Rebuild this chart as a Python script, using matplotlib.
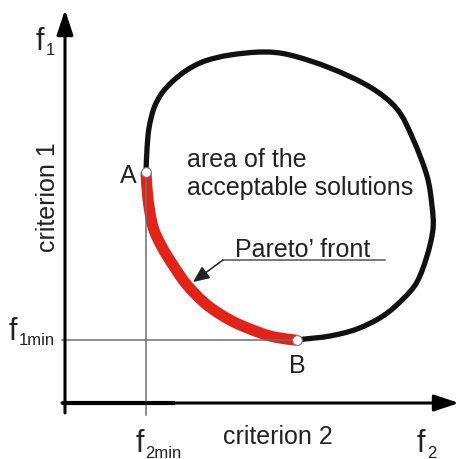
import numpy as np
import matplotlib.pyplot as plt
from matplotlib.path import Path
from matplotlib.patches import PathPatch

plt.rcParams['font.family'] = ['Liberation Sans', 'DejaVu Sans']

# boundary of the acceptable area, from A over the top down to B
bound_f2 = [81, 82, 84, 89, 97, 108, 122, 140, 165, 198, 225, 265, 305, 332, 348,
            362, 367, 368, 362, 352, 338, 318, 292, 265, 240, 232]
bound_f1 = [231, 254, 275, 295, 310, 322, 333, 342, 348, 351, 348, 335, 316, 294, 264,
            227, 197, 174, 147, 121, 104, 87, 74, 67, 64, 63]

# Pareto front, A -> B
front_f2 = [81, 83, 88, 97, 108, 122, 142, 165, 185, 205, 225, 232]
front_f1 = [231, 204, 176, 156, 138, 118, 98, 83, 74, 67, 63.5, 63]

f2_min = 81
f1_min = 63
point_A = (81, 231)
point_B = (232, 63)


def smooth_path(xs, ys):
    # Catmull-Rom through the given points, drawn as cubic Bezier segments
    p = np.column_stack([xs, ys]).astype(float)
    p = np.vstack([p[0], p, p[-1]])
    verts = [p[1]]
    codes = [Path.MOVETO]
    for i in range(1, len(p) - 2):
        c1 = p[i] + (p[i + 1] - p[i - 1]) / 6
        c2 = p[i + 1] - (p[i + 2] - p[i]) / 6
        verts += [c1, c2, p[i + 1]]
        codes += [Path.CURVE4] * 3
    return Path(verts, codes)


fig = plt.figure(figsize=(4.59, 4.60), dpi=100)
ax = fig.add_axes([0, 0, 1, 1])
ax.set_xlim(-65, 394)
ax.set_ylim(-56, 404)
ax.axis('off')

# axes with arrows
ax.annotate('', xy=(0, 393), xytext=(0, -10),
            arrowprops=dict(arrowstyle='-|>,head_length=0.6,head_width=0.2',
                            lw=2.2, color='black', mutation_scale=25,
                            shrinkA=0, shrinkB=0))
ax.annotate('', xy=(394, 0), xytext=(-3, 0),
            arrowprops=dict(arrowstyle='-|>,head_length=0.6,head_width=0.2',
                            lw=2.2, color='black', mutation_scale=25,
                            shrinkA=0, shrinkB=0))
ax.plot([-3, 110], [0, 0], color='black', lw=3.0, solid_capstyle='butt')

# guide lines
ax.plot([f2_min, f2_min], [-12, point_A[1]], color='#6e6e6e', lw=1.1)
ax.plot([-3, point_B[0]], [f1_min, f1_min], color='#6e6e6e', lw=1.1)

# boundary and front
ax.add_patch(PathPatch(smooth_path(bound_f2, bound_f1), fill=False,
                       edgecolor='#111111', lw=3.8, capstyle='round',
                       joinstyle='round'))
ax.add_patch(PathPatch(smooth_path(front_f2, front_f1), fill=False,
                       edgecolor='#e2231a', lw=8.0, capstyle='butt',
                       joinstyle='round'))
ax.plot([point_A[0], point_B[0]], [point_A[1], point_B[1]], 'o', ls='none',
        ms=7, mfc='white', mec='#777777', mew=0.8)

# texts
fs = 18
ax.text(122, 237, 'area of the', fontsize=fs, color='#222222')
ax.text(122, 209, 'acceptable solutions', fontsize=fs, color='#222222')
ax.text(170, 147, 'Pareto\u2019 front', fontsize=fs, color='#222222')
ax.plot([158, 320], [143, 143], color='#555555', lw=1.1)
ax.annotate('', xy=(128, 121), xytext=(158, 143),
            arrowprops=dict(arrowstyle='-|>,head_length=0.5,head_width=0.22',
                            lw=1.1, color='#222222', mutation_scale=20,
                            shrinkA=0, shrinkB=0))
ax.text(63, 228, 'A', fontsize=fs, color='#222222', ha='center', va='center')
ax.text(232, 38, 'B', fontsize=fs, color='#222222', ha='center', va='center')

ax.text(-17, 207, 'criterion 1', fontsize=fs, color='#222222',
        rotation=90, ha='center', va='center')
ax.text(158, -40, 'criterion 2', fontsize=fs, color='#222222')

# variable labels
big, small = 22, 12
ax.text(-29, 354, 'f', fontsize=big, color='#222222')
ax.text(-19, 349, '1', fontsize=small, color='#222222')
ax.text(352, -48, 'f', fontsize=big, color='#222222')
ax.text(362, -54, '2', fontsize=small, color='#222222')
ax.text(-56, 64, 'f', fontsize=big, color='#222222')
ax.text(-46, 59, '1min', fontsize=small, color='#222222')
ax.text(71, -48, 'f', fontsize=big, color='#222222')
ax.text(80, -54, '2min', fontsize=small, color='#222222')

fig.savefig('out.png', dpi=100)
